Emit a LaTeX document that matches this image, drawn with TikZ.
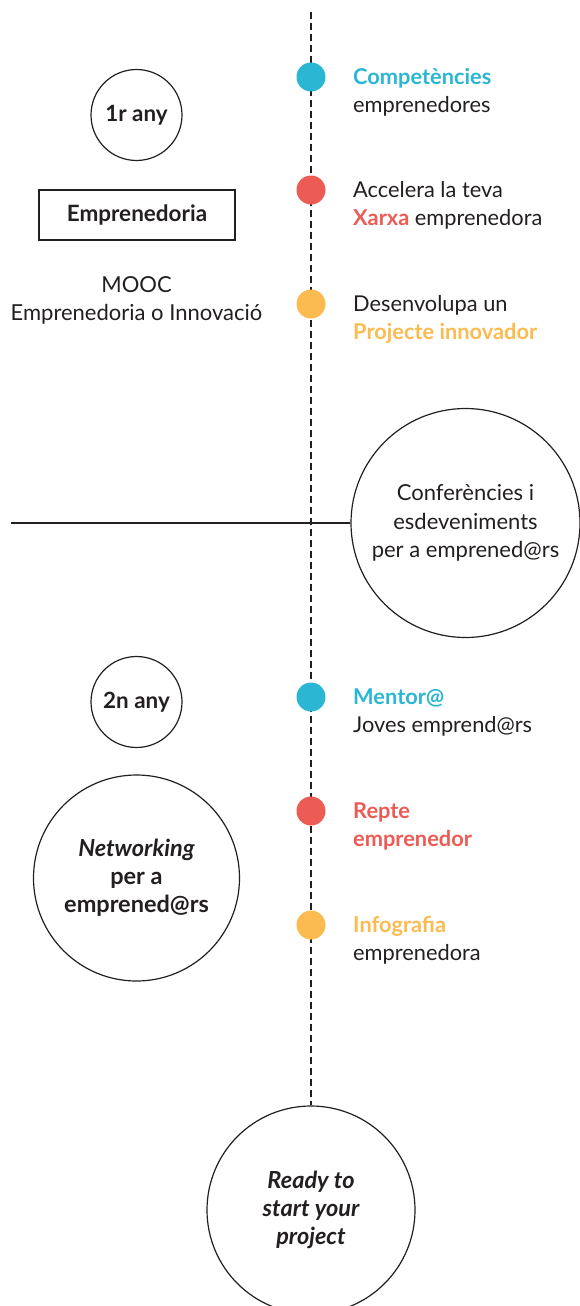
\documentclass[tikz,border=0pt]{standalone}
\usepackage{fontspec}
\setmainfont{Lato}
\definecolor{ccyan}{HTML}{2BB7D4}
\definecolor{cred}{HTML}{EC5B54}
\definecolor{cyel}{HTML}{FCBB50}
\definecolor{ink}{HTML}{231F20}
\begin{document}
\begin{tikzpicture}[x=1pt,y=-1pt,
  lbl/.style={anchor=base west, align=left, font=\fontsize{21.8}{28}\selectfont, text=ink, inner sep=0},
  dotnode/.style={circle, minimum size=29, inner sep=0},
  ring/.style={circle, draw=ink, line width=1.2, inner sep=0, align=center, text=ink},
  plain/.style={align=center, text=ink, inner sep=0, font=\fontsize{22}{28}\selectfont},
  timeline/.style={draw=ink, line width=2.5, dash pattern=on 7pt off 4pt}
]
\useasboundingbox (0,0) rectangle (579,1306);

% circles and boxes
\node[ring, minimum size=91, font=\bfseries\fontsize{22.4}{28}\selectfont] (y1) at (136.5,115) {1r any};
\node[draw=ink, line width=1.3, minimum width=196, minimum height=50, inner sep=0, text=ink, font=\bfseries\fontsize{22.5}{28}\selectfont] (emp) at (137,215) {Emprenedoria};
\node[plain] (mooc) at (136.5,300) {MOOC\\Emprenedoria o Innovació};

\node[ring, minimum size=229, font=\fontsize{22}{28.5}\selectfont] (conf) at (465.5,523) {Conferències i\\esdeveniments\\per a emprened@rs};
\coordinate (hl) at (11,523);

\node[ring, minimum size=91, font=\bfseries\fontsize{22.4}{28}\selectfont] (y2) at (136.5,702) {2n any};
\node[ring, minimum size=206, font=\bfseries\fontsize{23.5}{28}\selectfont] (net) at (136.5,878) {\textit{Networking}\\per a\\emprened@rs};

\node[ring, minimum size=208, font=\bfseries\itshape\fontsize{23.5}{28}\selectfont] (ready) at (311,1210) {Ready to\\start your\\project};

\coordinate (top) at (311,12);

% lines
\draw[timeline] (top) -- (ready.north);
\draw[draw=ink, line width=1.2] (hl) -- (conf.west);

% dots
\node[dotnode, fill=ccyan] (d1) at (311,77) {};
\node[dotnode, fill=cred] (d2) at (311,190) {};
\node[dotnode, fill=cyel] (d3) at (311,304) {};
\node[dotnode, fill=ccyan] (d4) at (311,697) {};
\node[dotnode, fill=cred] (d5) at (311,811) {};
\node[dotnode, fill=cyel] (d6) at (311,925) {};

% labels (anchored at the baseline of their last line)
\node[lbl] (l1) at (353,112) {\textcolor{ccyan}{\bfseries Competències}\\emprenedores};
\node[lbl] (l2) at (353,225) {Accelera la teva\\\textcolor{cred}{\bfseries Xarxa} emprenedora};
\node[lbl] (l3) at (353,339) {Desenvolupa un\\\textcolor{cyel}{\bfseries Projecte innovador}};
\node[lbl] (l4) at (353,732) {\textcolor{ccyan}{\bfseries Mentor@}\\Joves emprend@rs};
\node[lbl, text=cred, font=\bfseries\fontsize{21.8}{28}\selectfont] (l5) at (353,846) {Repte\\emprenedor};
\node[lbl] (l6) at (353,960) {\textcolor{cyel}{\bfseries Infografia}\\emprenedora};
\end{tikzpicture}
\end{document}
